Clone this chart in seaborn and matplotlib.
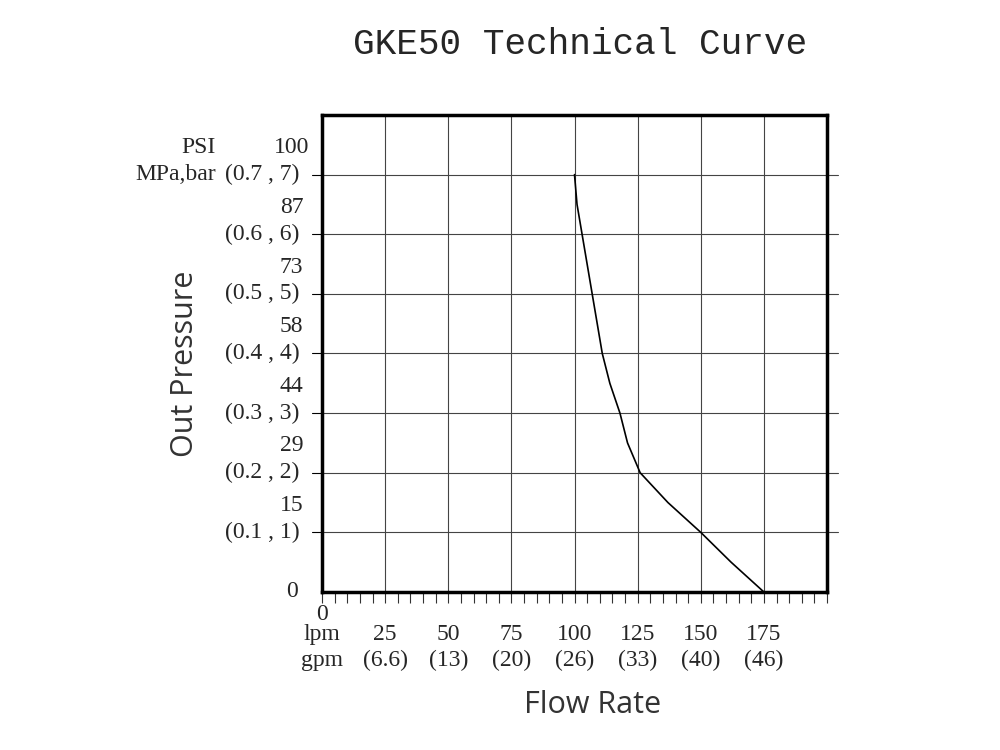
import matplotlib
matplotlib.use("Agg")
import matplotlib.pyplot as plt
import seaborn as sns
import numpy as np

# curve (lpm, bar)
flow_lpm = [100, 101, 103, 105, 107, 109, 111, 114, 118, 121, 126, 137, 150, 162, 175]
pressure_bar = [7, 6.5, 6, 5.5, 5, 4.5, 4, 3.5, 3, 2.5, 2, 1.5, 1, 0.5, 0]

x_ticks = [25, 50, 75, 100, 125, 150, 175]
gpm_labels = ["(6.6)", "(13)", "(20)", "(26)", "(33)", "(40)", "(46)"]
psi_labels = ["15", "29", "44", "58", "73", "87", "100"]
bar_labels = ["(0.1 , 1)", "(0.2 , 2)", "(0.3 , 3)", "(0.4 , 4)",
              "(0.5 , 5)", "(0.6 , 6)", "(0.7 , 7)"]

sns.set_style("white")
serif = "Liberation Serif"
fs = 17

fig = plt.figure(figsize=(10, 7.5), dpi=100)
ax = fig.add_axes([0.322, 0.2107, 0.505, 0.636])
ax.set_xlim(0, 200)
ax.set_ylim(0, 8)

# grid lines, slightly extended past the right frame
for xv in x_ticks:
    ax.axvline(xv, color="#444", lw=0.8, zorder=1)
for yv in range(1, 8):
    ax.plot([0, 204.5], [yv, yv], color="#444", lw=0.8, clip_on=False, zorder=1)

sns.lineplot(x=flow_lpm, y=pressure_bar, ax=ax, color="black", lw=1.2,
             sort=False, estimator=None)

for s in ax.spines.values():
    s.set_linewidth(2.5)
    s.set_color("black")

ax.set_xticks(np.arange(0, 201, 5), minor=True)
ax.set_xticks([])
ax.set_yticks([])
ax.tick_params(axis="x", which="minor", direction="out", length=8, width=0.8,
               bottom=True, color="#333")
ax.set_xticklabels([], minor=True)

# y-axis labels
for i, (p, b) in enumerate(zip(psi_labels, bar_labels)):
    yv = i + 1
    ax.text(-9, yv, b, ha="right", va="center", fontsize=fs, family=serif)
    ax.text(-12, yv + 0.45, p, ha="center", va="center", fontsize=fs, family=serif)
    ax.plot([-4, 0], [yv, yv], color="black", lw=0.8, clip_on=False)
ax.text(-12, 0, "0", ha="center", va="center", fontsize=fs, family=serif)
ax.text(-42, 7, "MPa,bar", ha="right", va="center", fontsize=fs, family=serif)
ax.text(-42, 7.45, "PSI", ha="right", va="center", fontsize=fs, family=serif)

# x-axis labels
ax.text(0, -0.37, "0", ha="center", va="center", fontsize=fs, family=serif)
ax.text(0, -0.72, "lpm", ha="center", va="center", fontsize=fs, family=serif)
ax.text(0, -1.15, "gpm", ha="center", va="center", fontsize=fs, family=serif)
for xv, g in zip(x_ticks, gpm_labels):
    ax.text(xv, -0.72, str(xv), ha="center", va="center", fontsize=fs, family=serif)
    ax.text(xv, -1.15, g, ha="center", va="center", fontsize=fs, family=serif)

fig.text(0.58, 0.94, "GKE50 Technical Curve", ha="center", va="center",
         fontsize=26, family="Liberation Mono")
fig.text(0.593, 0.06, "Flow Rate", ha="center", va="center", fontsize=22,
         family="Open Sans", color="#333")
fig.text(0.185, 0.515, "Out Pressure", ha="center", va="center", fontsize=22,
         family="Open Sans", color="#333", rotation=90)

fig.savefig("out.png", dpi=100)
